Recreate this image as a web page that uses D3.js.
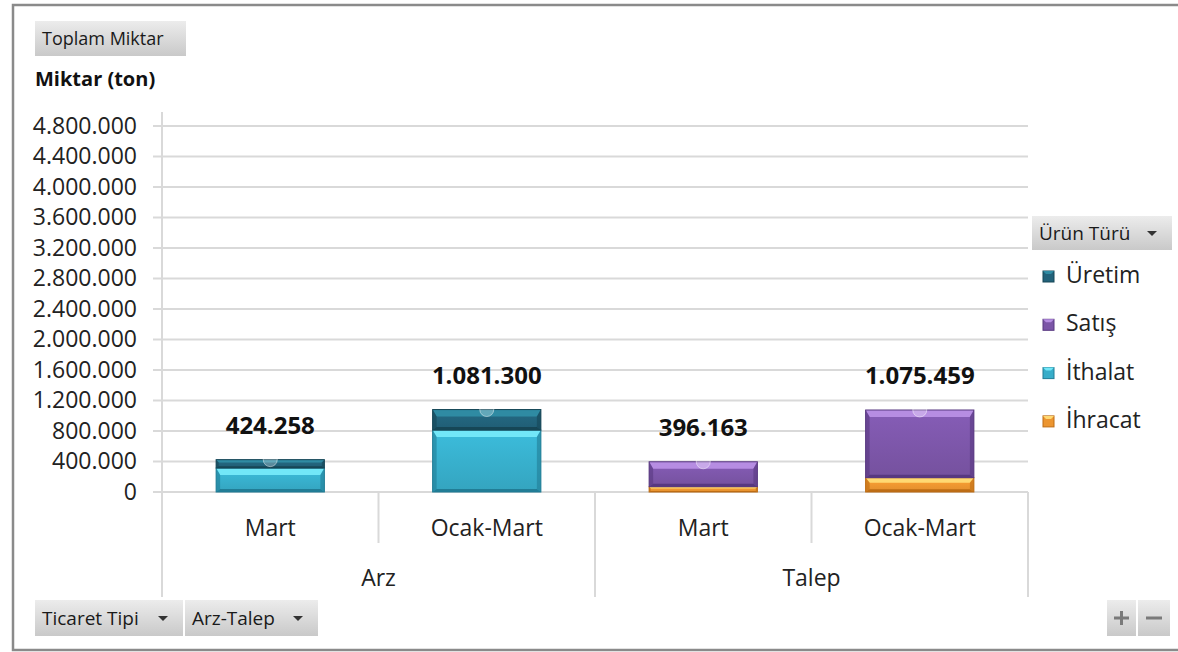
<!DOCTYPE html>
<html>
<head>
<meta charset="utf-8">
<script src="https://cdn.jsdelivr.net/npm/d3@7"></script>
<style>
  html, body { margin: 0; padding: 0; background: #fff; }
  svg { display: block; font-family: "Open Sans", sans-serif; }
</style>
</head>
<body>
<div id="chart"></div>
<script>
// données
const categories = ["Mart", "Ocak-Mart", "Mart", "Ocak-Mart"];
const groups = ["Arz", "Talep"];
const groupOf = ["Arz", "Arz", "Talep", "Talep"];
const seriesNames = ["İhracat", "İthalat", "Satış", "Üretim"]; // ordre d'empilement (bas -> haut)
const ihracat = [0, 0, 70000, 188000];
const ithalat = [314258, 812000, 0, 0];
const satis = [0, 0, 326163, 887459];
const uretim = [110000, 269300, 0, 0];
const totals = [424258, 1081300, 396163, 1075459];
const yTicks = [0, 400000, 800000, 1200000, 1600000, 2000000, 2400000, 2800000, 3200000, 3600000, 4000000, 4400000, 4800000];
const legendOrder = ["Üretim", "Satış", "İthalat", "İhracat"];

const W = 1178, H = 652;
const colors = {
  "Üretim": { face: "#22627a", light: "#2f8ba3", dark: "#164656" },
  "İthalat": { face: "#37adc9", light: "#72e7f8", dark: "#217d96" },
  "Satış": { face: "#7b55a7", light: "#b68de2", dark: "#583880" },
  "İhracat": { face: "#ec9530", light: "#ffd972", dark: "#bd6d14" }
};
const valuesBySeries = { "İhracat": ihracat, "İthalat": ithalat, "Satış": satis, "Üretim": uretim };

const svg = d3.select("#chart").append("svg").attr("width", W).attr("height", H);
const defs = svg.append("defs");

// dégradés pour les boutons et les faces
const btn = defs.append("linearGradient").attr("id", "btn").attr("x1", 0).attr("y1", 0).attr("x2", 0).attr("y2", 1);
btn.append("stop").attr("offset", "0%").attr("stop-color", "#ececec");
btn.append("stop").attr("offset", "100%").attr("stop-color", "#c9c9c9");
Object.keys(colors).forEach((k, i) => {
  const g = defs.append("linearGradient").attr("id", "face" + i).attr("x1", 0).attr("y1", 0).attr("x2", 0).attr("y2", 1);
  g.append("stop").attr("offset", "0%").attr("stop-color", d3.color(colors[k].face).brighter(0.25));
  g.append("stop").attr("offset", "100%").attr("stop-color", d3.color(colors[k].face).darker(0.15));
  colors[k].grad = "url(#face" + i + ")";
});

// cadre
svg.append("path").attr("d", `M${W},5 H13 V650 H${W}`).attr("fill", "none").attr("stroke", "#8a8a8a").attr("stroke-width", 2.5);

// échelles
const x = d3.scaleBand().domain(d3.range(categories.length)).range([162, 1028]).paddingInner(0.5).paddingOuter(0.25);
const y = d3.scaleLinear().domain([0, 4800000]).range([492, 126]);
const fmt = d3.formatLocale({ decimal: ",", thousands: ".", grouping: [3], currency: ["", ""] }).format(",d");

// grille
svg.append("g").selectAll("line").data(yTicks).join("line")
  .attr("x1", 153).attr("x2", 1028).attr("y1", d => y(d)).attr("y2", d => y(d))
  .attr("stroke", "#d9d9d9").attr("stroke-width", 2);

// axe Y
const yAxis = svg.append("g").attr("transform", "translate(137,0)")
  .call(d3.axisLeft(y).tickValues(yTicks).tickFormat(fmt).tickSize(0).tickPadding(0));
yAxis.select(".domain").remove();
yAxis.selectAll("text").attr("font-size", 23).attr("fill", "#222").attr("font-family", "Open Sans");
svg.append("line").attr("x1", 162).attr("x2", 162).attr("y1", 112).attr("y2", 597).attr("stroke", "#d9d9d9").attr("stroke-width", 2);

// séparateurs de catégories
const step = x.step();
const bounds = d3.range(categories.length + 1).map(i => 162 + i * step);
svg.append("g").selectAll("line").data(bounds).join("line")
  .attr("x1", d => d).attr("x2", d => d).attr("y1", 492)
  .attr("y2", (d, i) => (i % 2 === 0 ? 597 : 543))
  .attr("stroke", "#d9d9d9").attr("stroke-width", 2);

// étiquettes des catégories
svg.append("g").selectAll("text").data(categories).join("text")
  .attr("x", (d, i) => x(i) + x.bandwidth() / 2).attr("y", 536)
  .attr("text-anchor", "middle").attr("font-size", 23).attr("fill", "#222").text(d => d);
svg.append("g").selectAll("text").data(groups).join("text")
  .attr("x", (d, i) => 162 + step * (2 * i + 1)).attr("y", 586)
  .attr("text-anchor", "middle").attr("font-size", 23).attr("fill", "#222").text(d => d);

// barres empilées avec biseau
const stack = d3.stack().keys(seriesNames).value((d, k) => valuesBySeries[k][d]);
const stacked = stack(d3.range(categories.length));
const bw = x.bandwidth();
stacked.forEach(layer => {
  const c = colors[layer.key];
  layer.forEach((seg, i) => {
    if (seg[1] - seg[0] <= 0) return;
    const x0 = x(i), y0 = y(seg[1]), h = y(seg[0]) - y(seg[1]);
    const g = svg.append("g").attr("transform", `translate(${x0},${y0})`);
    const b = Math.min(7, h * 0.35), bb = Math.min(3, h * 0.2), sb = Math.min(4, h * 0.3);
    g.append("rect").attr("width", bw).attr("height", h).attr("fill", c.grad);
    g.append("path").attr("d", `M0,0 H${bw} L${bw - sb},${b} H${sb} Z`).attr("fill", c.light);
    g.append("path").attr("d", `M0,${h} H${bw} L${bw - sb},${h - bb} H${sb} Z`).attr("fill", c.dark);
    g.append("path").attr("d", `M0,0 L${sb},${b} V${h - bb} L0,${h} Z`).attr("fill", c.dark).attr("opacity", 0.6);
    g.append("path").attr("d", `M${bw},0 L${bw - sb},${b} V${h - bb} L${bw},${h} Z`).attr("fill", c.dark).attr("opacity", 0.6);
    g.append("rect").attr("width", bw).attr("height", h).attr("fill", "none").attr("stroke", c.dark).attr("stroke-width", 1);
  });
});

// marqueurs et étiquettes des totaux
svg.append("g").selectAll("circle").data(totals).join("circle")
  .attr("cx", (d, i) => x(i) + bw / 2).attr("cy", d => y(d)).attr("r", 7)
  .attr("fill", "rgba(255,255,255,0.25)").attr("stroke", "rgba(255,255,255,0.45)");
svg.append("g").selectAll("text").data(totals).join("text")
  .attr("x", (d, i) => x(i) + bw / 2).attr("y", d => y(d) - 26)
  .attr("text-anchor", "middle").attr("font-size", 24).attr("font-weight", "bold").attr("fill", "#111")
  .text(d => fmt(d));

// boutons et titres
function button(x0, y0, w, h, label, size, arrow) {
  svg.append("rect").attr("x", x0).attr("y", y0).attr("width", w).attr("height", h).attr("fill", "url(#btn)");
  svg.append("text").attr("x", x0 + 7).attr("y", y0 + h / 2).attr("dy", "0.35em")
    .attr("font-size", size).attr("fill", "#1a1a1a").text(label);
  if (arrow) {
    const ax = x0 + w - 20, ay = y0 + h / 2;
    svg.append("path").attr("d", `M${ax - 5},${ay - 2} H${ax + 5} L${ax},${ay + 3} Z`).attr("fill", "#333");
  }
}
button(35, 21, 151, 35, "Toplam Miktar", 18, false);
svg.append("text").attr("x", 35).attr("y", 86).attr("font-size", 20).attr("font-weight", "bold").attr("fill", "#111").text("Miktar (ton)");
button(35, 600, 148, 36, "Ticaret Tipi", 19, true);
button(185, 600, 133, 36, "Arz-Talep", 19, true);
button(1032, 216, 140, 34, "Ürün Türü", 19, true);

// boutons + / −
svg.append("rect").attr("x", 1107).attr("y", 600).attr("width", 29).attr("height", 36).attr("fill", "url(#btn)");
svg.append("rect").attr("x", 1138).attr("y", 600).attr("width", 32).attr("height", 36).attr("fill", "url(#btn)");
svg.append("path").attr("d", "M1114,618 H1129 M1121.5,611 V625 M1146,618 H1162")
  .attr("stroke", "#7a7a7a").attr("stroke-width", 3);

// légende
const legend = svg.append("g").selectAll("g").data(legendOrder).join("g")
  .attr("transform", (d, i) => `translate(1043,${275 + i * 48.3})`);
legend.append("rect").attr("x", 0).attr("y", -4).attr("width", 11).attr("height", 11).attr("fill", d => colors[d].face).attr("stroke", d => colors[d].dark);
legend.append("path").attr("d", "M0,-4 H11 L8,-1 H3 Z").attr("fill", d => colors[d].light);
legend.append("text").attr("x", 23).attr("y", 0).attr("dy", "0.35em")
  .attr("font-size", 23).attr("fill", "#222").text(d => d);
</script>
</body>
</html>
